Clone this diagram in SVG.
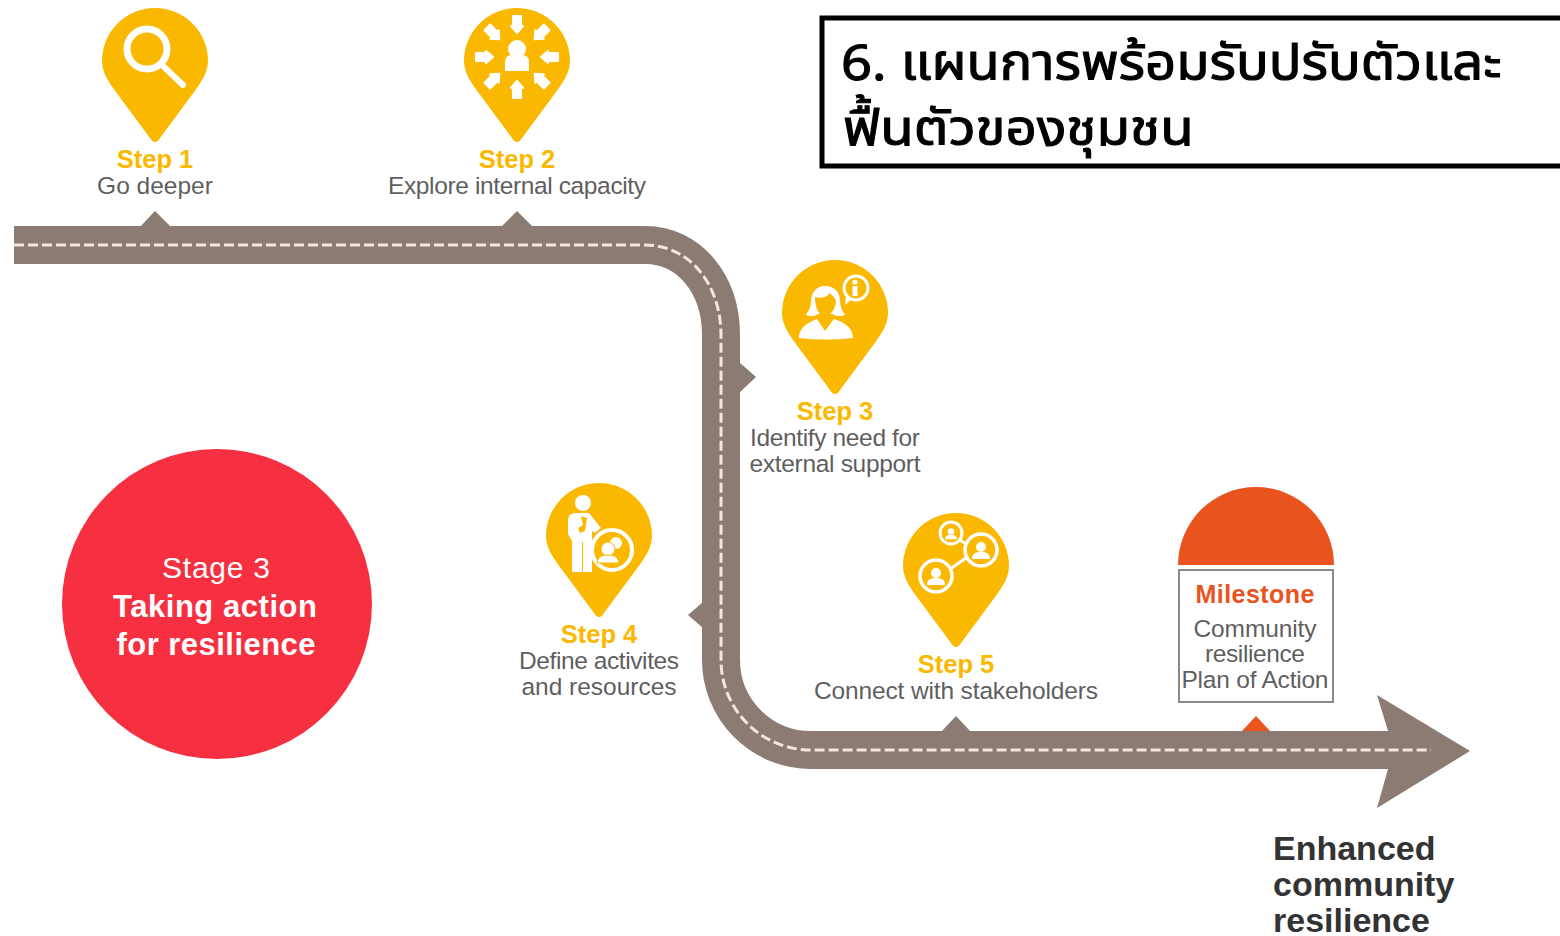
<svg xmlns="http://www.w3.org/2000/svg" width="1560" height="936" viewBox="0 0 1560 936">
<style>
text{font-family:"Liberation Sans",Arial,sans-serif;text-anchor:middle}
.st{font-size:25.5px;font-weight:700;fill:#fbb800}
.lb{font-size:24.5px;fill:#5f5f5f}
.w{fill:#fff}
.ws{fill:none;stroke:#fff}
.road{fill:none;stroke:#8b7b72;stroke-width:38}
.dash{fill:none;stroke:#f1e7dd;stroke-width:3;stroke-dasharray:10 4}
.bump{fill:#8b7b72}
.title{font-family:"Noto Sans","Noto Sans Thai","DejaVu Sans",sans-serif;font-size:50px;fill:#000;text-anchor:start;stroke:#000;stroke-width:1.100px}
</style>
<defs>
<path id="pin" d="M0 80C-2 80-4 78-5 76L-42 26C-49 16-53 8-53-1A53 53 0 0 1 53-1C53 8 49 16 42 26L5 76C4 78 2 80 0 80Z" fill="#fbb800"/>
<path id="arr" d="M0 9L-6 2L-4 2L-4-8L4-8L4 2L6 2Z" fill="#fff" stroke="#fff" stroke-width="2" stroke-linejoin="round"/>
<g id="bust"><circle cx="0" cy="-4" r="5"/><path d="M-9 8C-9 2-5 1 0 1C5 1 9 2 9 8Z"/></g>
</defs>
<rect width="1560" height="936" fill="#fff"/>
<g id="connectors">
<path class="bump" d="M140 227L155 211L171 227ZM501 227L517 211L533 227ZM739 362L756 377L739 393ZM703 602L688 615L703 628ZM941 732L956 716L971 732Z"/>
<path fill="#e9531d" d="M1241 732L1256 716L1271 732Z"/>
<path class="road" d="M14 245H645C690 245 721 285 721 335V660A90 90 0 0 0 811 750H1395"/>
<path class="bump" d="M1388 731L1377 695L1470 751L1377 808L1388 769L1380 769L1380 731Z"/>
<path class="dash" d="M14 245H645C690 245 721 285 721 335V660A90 90 0 0 0 811 750H1431"/>
</g>
<g id="step1">
<use href="#pin" x="155" y="62"/>
<circle class="ws" cx="147" cy="49" r="20" stroke-width="7"/>
<path class="ws" d="M163 66L183 85" stroke-width="6" stroke-linecap="round"/>
<text class="st" x="155" y="168">Step 1</text>
<text class="lb" x="155" y="194">Go deeper</text>
</g>
<g id="step2">
<use href="#pin" x="517" y="62"/>
<circle class="w" cx="517" cy="49" r="9"/>
<path class="w" d="M505 71V62Q505 55 512 55H522Q529 55 529 62V71Z"/>
<use href="#arr" transform="translate(517 24)"/>
<use href="#arr" transform="translate(541 33) rotate(45)"/>
<use href="#arr" transform="translate(550 57) rotate(90)"/>
<use href="#arr" transform="translate(541 80) rotate(135)"/>
<use href="#arr" transform="translate(517 90) rotate(180)"/>
<use href="#arr" transform="translate(493 80) rotate(225)"/>
<use href="#arr" transform="translate(484 57) rotate(270)"/>
<use href="#arr" transform="translate(493 33) rotate(315)"/>
<text class="st" x="517" y="168">Step 2</text>
<text class="lb" x="517" y="194" textLength="258">Explore internal capacity</text>
</g>
<g id="step3">
<use href="#pin" x="835" y="314"/>
<path class="w" d="M825 286C815 286 811 294 811 302C811 308 808 311 806 315C810 317 816 316 818 314H832C835 316 841 317 845 315C842 311 840 306 840 300C840 292 834 286 825 286Z"/>
<path fill="#fbb800" d="M815 297C821 299 827 297 830 293C833 297 836 298 836 302C835 310 830 316 825 316C820 316 815 310 815 297Z"/>
<path class="w" d="M799 338C799 326 810 322 817 319L825 331L834 319C842 322 853 326 853 338C835 340 817 340 799 338Z"/>
<circle class="ws" cx="856" cy="288" r="12" stroke-width="3"/>
<path class="w" d="M846 296L852 299L845 305Z"/>
<circle class="w" cx="855" cy="282" r="2.6"/>
<rect class="w" x="852.500" y="286" width="5" height="10"/>
<text class="st" x="835" y="420">Step 3</text>
<text class="lb" x="835" y="446" textLength="170">Identify need for</text>
<text class="lb" x="835" y="472" textLength="171">external support</text>
</g>
<g id="step4">
<use href="#pin" x="599" y="537"/>
<circle class="w" cx="583" cy="503" r="8"/>
<path class="w" d="M575 513H589L601 528L595 533L592 531V572H583V542H582V572H572V541L568 534V520Q568 514 575 513Z"/>
<path fill="#fbb800" d="M581 516L587 518L585 531L580 533L578 528L583 525Z"/>
<circle fill="#fbb800" stroke="#fff" stroke-width="4" cx="612" cy="550" r="20"/>
<circle class="w" cx="616" cy="543" r="6"/>
<circle class="w" stroke="#fbb800" cx="608" cy="549" r="7"/>
<path class="w" stroke="#fbb800" d="M597 563C598 556 603 555 608 555C613 555 618 556 619 563Z"/>
<text class="st" x="599" y="643">Step 4</text>
<text class="lb" x="599" y="669" textLength="160">Define activites</text>
<text class="lb" x="599" y="695" textLength="155">and resources</text>
</g>
<g id="step5">
<use href="#pin" x="956" y="567"/>
<path class="ws" d="M960 540L966 544M950 569L966 558" stroke-width="3"/>
<circle class="ws" cx="951" cy="533" r="11" stroke-width="3"/>
<circle class="ws" cx="981" cy="550" r="16" stroke-width="3.500"/>
<circle class="ws" cx="936" cy="576" r="16" stroke-width="3.500"/>
<use href="#bust" class="w" transform="translate(951 534) scale(.65)"/>
<use href="#bust" class="w" transform="translate(981 551)"/>
<use href="#bust" class="w" transform="translate(936 577)"/>
<text class="st" x="956" y="673">Step 5</text>
<text class="lb" x="956" y="699" textLength="284">Connect with stakeholders</text>
</g>
<g id="milestone">
<path fill="#e9531d" d="M1178 565A78 78 0 0 1 1334 565Z"/>
<rect x="1179" y="570" width="154" height="132" fill="#fff" stroke="#8a8a8a" stroke-width="2"/>
<text x="1255" y="603" font-size="25" font-weight="700" fill="#e9531d" textLength="119">Milestone</text>
<text class="lb" x="1255" y="637" textLength="123">Community</text>
<text class="lb" x="1255" y="662" textLength="100">resilience</text>
<text class="lb" x="1255" y="688" textLength="147">Plan of Action</text>
</g>
<g id="stage3">
<circle cx="217" cy="604" r="155" fill="#f63040"/>
<text x="216" y="578" font-size="30" fill="#fff" textLength="108">Stage 3</text>
<text x="215" y="617" font-size="31" font-weight="700" fill="#fff" textLength="204">Taking action</text>
<text x="216" y="655" font-size="31" font-weight="700" fill="#fff" textLength="199">for resilience</text>
</g>
<g id="outcome">
<text x="1273" y="860" font-size="34" font-weight="700" fill="#333" style="text-anchor:start">Enhanced</text>
<text x="1273" y="896" font-size="34" font-weight="700" fill="#333" style="text-anchor:start">community</text>
<text x="1273" y="932" font-size="34" font-weight="700" fill="#333" style="text-anchor:start">resilience</text>
</g>
<g id="title">
<rect x="822" y="18" width="745" height="148" fill="#fff" stroke="#000" stroke-width="5"/>
<text class="title" transform="translate(841 80) scale(1.085 1)">6. แผนการพร้อมรับปรับตัวและ</text>
<text class="title" transform="translate(843 145) scale(1.095 1)">ฟื้นตัวของชุมชน</text>
</g>
</svg>
